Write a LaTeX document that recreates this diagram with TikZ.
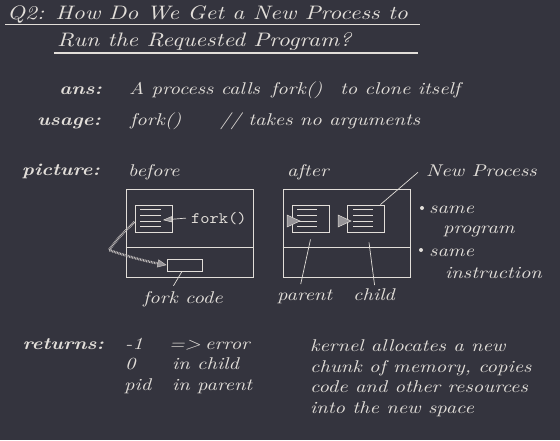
\documentclass[tikz,border=0pt]{standalone}
\usepackage{fontspec}
\setmainfont{lmroman10-regular.otf}[ItalicFont=lmroman10-italic.otf,
  BoldFont=lmroman10-bold.otf, BoldItalicFont=lmroman10-bolditalic.otf,
  FakeStretch=1.2]
\setmonofont{lmmono10-regular.otf}[FakeStretch=1.1]
\usetikzlibrary{arrows.meta}

\definecolor{bg}{RGB}{52,52,62}
\definecolor{fg}{RGB}{226,222,217}
\definecolor{hatch}{RGB}{150,148,152}

\tikzset{
  ttl/.style={anchor=base west, inner sep=0pt, text=fg, font=\fontsize{19.5}{23}\selectfont\itshape},
  txt/.style={anchor=base west, inner sep=0pt, text=fg, font=\fontsize{17}{20}\selectfont\itshape},
  lbl/.style={anchor=base east, inner sep=0pt, text=fg, font=\fontsize{17}{20}\selectfont\bfseries\itshape},
  mono/.style={anchor=base west, inner sep=0pt, inner xsep=5pt, text=fg, font=\fontsize{16}{19}\selectfont\ttfamily},
  procbox/.style={draw=fg, line width=0.9pt, minimum width=127pt, minimum height=88pt, inner sep=0pt},
  docbox/.style={draw=fg, line width=0.9pt, minimum width=37pt, minimum height=27pt, inner sep=0pt},
  thinline/.style={draw=fg, line width=0.7pt},
  hatchfill/.style={fill=hatch, draw=fg, line width=0.5pt},
  hatcharrow/.style={draw=fg!85!bg, line width=2.4pt, dash pattern=on 0.8pt off 0.8pt,
    -{Triangle[length=9pt, width=8pt, fill=hatch, line width=0.5pt]}},
  pcarrow/.style={draw=fg, line width=0.7pt,
    -{Triangle[length=9pt, width=6pt, fill=hatch, line width=0.5pt]}},
}

\begin{document}
\begin{tikzpicture}[x=1pt, y=-1pt]
  % Background
  \fill[bg] (0,0) rectangle (560,440);
  \useasboundingbox (0,0) rectangle (560,440);

  % Title
  \node[ttl] (title1) at (7,19.5) {Q2: How Do We Get a New Process to};
  \node[ttl] (title2) at (57,46.5) {Run the Requested Program?};
  \draw[fg, line width=1.5pt] (5,24.5) -- (420,24.5);
  \draw[fg, line width=1.5pt] (54,53) -- (418,53);

  % Answer and usage
  \node[lbl] (ans) at (102,94) {ans:};
  \node[txt] (ans1) at (129,94) {A process calls};
  \node[txt] (ans2) at (271,94) {fork()};
  \node[txt] (ans3) at (340,94) {to clone itself};
  \node[lbl] (usage) at (101,125) {usage:};
  \node[txt] (usage1) at (130,125) {fork()};
  \node[txt] (usage2) at (220,125) {// takes no arguments};

  % Picture
  \node[lbl] (picture) at (100,175) {picture:};
  \node[txt] (before) at (128,176) {before};
  \node[txt] (after) at (287,176) {after};
  \node[txt] (newproc) at (426,176) {New Process};

  % Before fork
  \node[procbox] (bproc) at (189.5,233) {};
  \draw[thinline] (bproc.west |- 0,247) -- (bproc.east |- 0,247);
  \node[docbox] (bdoc) at (153.5,218.5) {};
  \foreach \ly in {209,215,221,226}
    \draw[thinline] (140,\ly) -- (161,\ly);
  \coordinate (bpc) at (163,220);
  \node[mono] (forkcall) at (186,223) {fork()};
  \draw[pcarrow] (forkcall.west) -- (bpc);
  \node[docbox, minimum width=35pt, minimum height=12pt] (fcode) at (184.5,265) {};
  \draw[hatcharrow] ([shift={(0,3.5)}]bdoc.west) .. controls (120,236) .. (109,250)
    .. controls (132,258) and (150,262) .. (fcode.west);
  \node[txt] (fclabel) at (143,303) {fork code};
  \draw[thinline] ([xshift=-2.5pt]fcode.south) -- ([shift={(-9.5,-5)}]fclabel.north);

  % After fork
  \node[procbox] (aproc) at (346.5,233) {};
  \draw[thinline] (aproc.west |- 0,247) -- (aproc.east |- 0,247);
  \node[docbox] (pdoc) at (310.5,218.5) {};
  \node[docbox] (cdoc) at (365.5,218.5) {};
  \foreach \lx in {297,353}
    \foreach \ly in {209,215,221,226}
      \draw[thinline] (\lx,\ly) -- ++(20,0);
  \foreach \tx in {287,338}
    \filldraw[hatchfill] (\tx,215) -- ++(13,6) -- ++(-13,6) -- cycle;
  \node[txt] (plabel) at (277,300) {parent};
  \node[txt] (clabel) at (353,300) {child};
  \draw[thinline] ([shift={(-4,-5)}]plabel.north) -- ([shift={(0,7)}]pdoc.south);
  \draw[thinline] ([shift={(0.5,-3)}]clabel.north) -- ([shift={(3.5,10)}]cdoc.south);
  \draw[thinline] ([shift={(-8,2)}]newproc.west) -- ([shift={(-4,0)}]cdoc.north east);

  % Bullets
  \fill[fg] (422,208) circle (2);
  \node[txt] (same1) at (429,213) {same};
  \node[txt] (prog) at (443,233) {program};
  \fill[fg] (421,250) circle (2);
  \node[txt] (same2) at (429,256) {same};
  \node[txt] (instr) at (445,278) {instruction};

  % Returns
  \node[lbl] (returns) at (104,349) {returns:};
  \node[txt] (rneg) at (125,349) {-1};
  \node[txt] (rarrow) at (169,349) {=>};
  \node[txt] (rerr) at (205,349) {error};
  \node[txt] (rzero) at (125,369) {0};
  \node[txt] (rchild) at (172,369) {in child};
  \node[txt] (rpid) at (124,390) {pid};
  \node[txt] (rparent) at (172,390) {in parent};

  % Kernel note
  \node[txt] (k1) at (310,351) {kernel allocates a new};
  \node[txt] (k2) at (310,372) {chunk of memory, copies};
  \node[txt] (k3) at (310,392) {code and other resources};
  \node[txt] (k4) at (310,413) {into the new space};
\end{tikzpicture}
\end{document}
